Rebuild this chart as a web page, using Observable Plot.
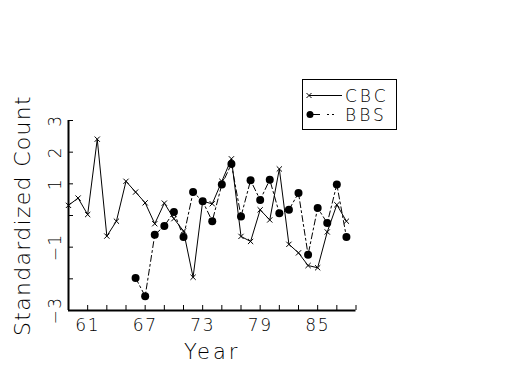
<!DOCTYPE html>
<html>
<head>
<meta charset="utf-8">
<script src="https://cdn.jsdelivr.net/npm/d3@7"></script>
<script src="https://cdn.jsdelivr.net/npm/@observablehq/plot@0.6"></script>
<style>
  html, body { margin: 0; padding: 0; background: #fff; }
  #wrap { position: relative; width: 525px; height: 375px; }
  #legend { position: absolute; left: 0; top: 0; }
  svg text { font-family: "DejaVu Sans", sans-serif; font-weight: 200; }
</style>
</head>
<body>
<div id="wrap"></div>
<script>
const cbcYears = d3.range(59, 89);
const cbcValues = [0.32, 0.55, 0.03, 2.41, -0.65, -0.18, 1.08, 0.74, 0.40, -0.26, 0.39, -0.10, -0.49, -1.95, 0.45, 0.37, 1.08, 1.79, -0.66, -0.82, 0.18, -0.14, 1.47, -0.91, -1.18, -1.58, -1.65, -0.52, 0.34, -0.18];
const bbsYears = d3.range(66, 89);
const bbsValues = [-1.97, -2.55, -0.61, -0.33, 0.11, -0.68, 0.74, 0.45, -0.18, 0.98, 1.63, -0.03, 1.11, 0.49, 1.13, 0.07, 0.18, 0.71, -1.24, 0.24, -0.24, 0.98, -0.68];
const xTickLabels = [61, 67, 73, 79, 85];
const xTicks = d3.range(59, 90, 2);
const yTicks = [3, 2, 1, 0, -1, -2, -3];
const yTickLabels = [3, 2, 1, -1, -3];
const seriesNames = ["CBC", "BBS"];

const cbc = cbcYears.map((year, i) => ({year, value: cbcValues[i]}));
const bbs = bbsYears.map((year, i) => ({year, value: bbsValues[i]}));

const font = '"DejaVu Sans", sans-serif';

const chart = Plot.plot({
  width: 525,
  height: 375,
  marginLeft: 68,
  marginRight: 169.5,
  marginTop: 120,
  marginBottom: 65,
  style: {fontFamily: font, background: "white", color: "black"},
  x: {domain: [59, 89], axis: null},
  y: {domain: [-3, 3], axis: null},
  marks: [
    Plot.axisX({ticks: xTicks, tickSize: -5, tickFormat: () => "", label: null, strokeWidth: 1}),
    Plot.axisY({ticks: yTicks, tickSize: -5, tickFormat: () => "", label: null, strokeWidth: 1}),
    Plot.ruleY([-3], {strokeWidth: 2}),
    Plot.ruleX([59], {strokeWidth: 2}),
    Plot.text(xTickLabels, {x: d => d, frameAnchor: "bottom", dy: 15, lineAnchor: "middle", text: d => String(d), fontSize: 17, fontWeight: 200, fill: "black", className: "ticklab"}),
    Plot.text(yTickLabels, {y: d => d, frameAnchor: "left", dx: -13, rotate: -90, textAnchor: "middle", lineAnchor: "middle", text: d => d < 0 ? "\u2212" + Math.abs(d) : String(d), fontSize: 17, fontWeight: 200, fill: "black", className: "ticklab"}),
    Plot.text(["Year"], {frameAnchor: "bottom", dy: 42, textAnchor: "middle", lineAnchor: "middle", fontSize: 21, fontWeight: 200, fill: "black", className: "xlab"}),
    Plot.text(["Standardized Count"], {frameAnchor: "left", dx: -46, rotate: -90, textAnchor: "middle", lineAnchor: "middle", fontSize: 22, fontWeight: 200, fill: "black", className: "ylab"}),
    Plot.line(cbc, {x: "year", y: "value", stroke: "black", strokeWidth: 1}),
    Plot.dot(cbc, {x: "year", y: "value", symbol: "times", r: 2.5, stroke: "black", strokeWidth: 1}),
    Plot.line(bbs, {x: "year", y: "value", stroke: "black", strokeWidth: 1, strokeDasharray: "6,3,2,3"}),
    Plot.dot(bbs, {x: "year", y: "value", r: 4, fill: "black", stroke: "none"})
  ]
});

const wrap = document.getElementById("wrap");
wrap.appendChild(chart);
d3.select(chart).selectAll(".ticklab text").style("letter-spacing", "1.5px");
d3.select(chart).selectAll(".xlab text").style("letter-spacing", "3px");
d3.select(chart).selectAll(".ylab text").style("letter-spacing", "1.3px");

// Legend overlay
const leg = d3.select(wrap).append("svg")
  .attr("id", "legend")
  .attr("width", 525).attr("height", 375);
leg.append("rect").attr("x", 302.5).attr("y", 79.5).attr("width", 94).attr("height", 50)
  .attr("fill", "white").attr("stroke", "black").attr("stroke-width", 1);
const rows = leg.selectAll("g.item").data(seriesNames).join("g")
  .attr("transform", (d, i) => `translate(0,${i === 0 ? 95.5 : 114.5})`);
rows.append("line").attr("x1", 309).attr("x2", 342).attr("y1", 0).attr("y2", 0)
  .attr("stroke", "black").attr("stroke-width", 1)
  .attr("stroke-dasharray", (d, i) => i === 0 ? null : "11,7,2,3,2,20");
rows.filter((d, i) => i === 0).append("path").attr("d", "M306.5,-2.5L311.5,2.5M306.5,2.5L311.5,-2.5")
  .attr("stroke", "black").attr("stroke-width", 1);
rows.filter((d, i) => i === 1).append("circle").attr("cx", 310).attr("cy", 0).attr("r", 3.5).attr("fill", "black");
rows.append("text").attr("x", 345).attr("y", 0).attr("dy", "0.36em")
  .attr("font-size", 17).attr("font-weight", 200).attr("font-family", font)
  .style("letter-spacing", "3px").attr("fill", "black").text(d => d);
</script>
</body>
</html>
